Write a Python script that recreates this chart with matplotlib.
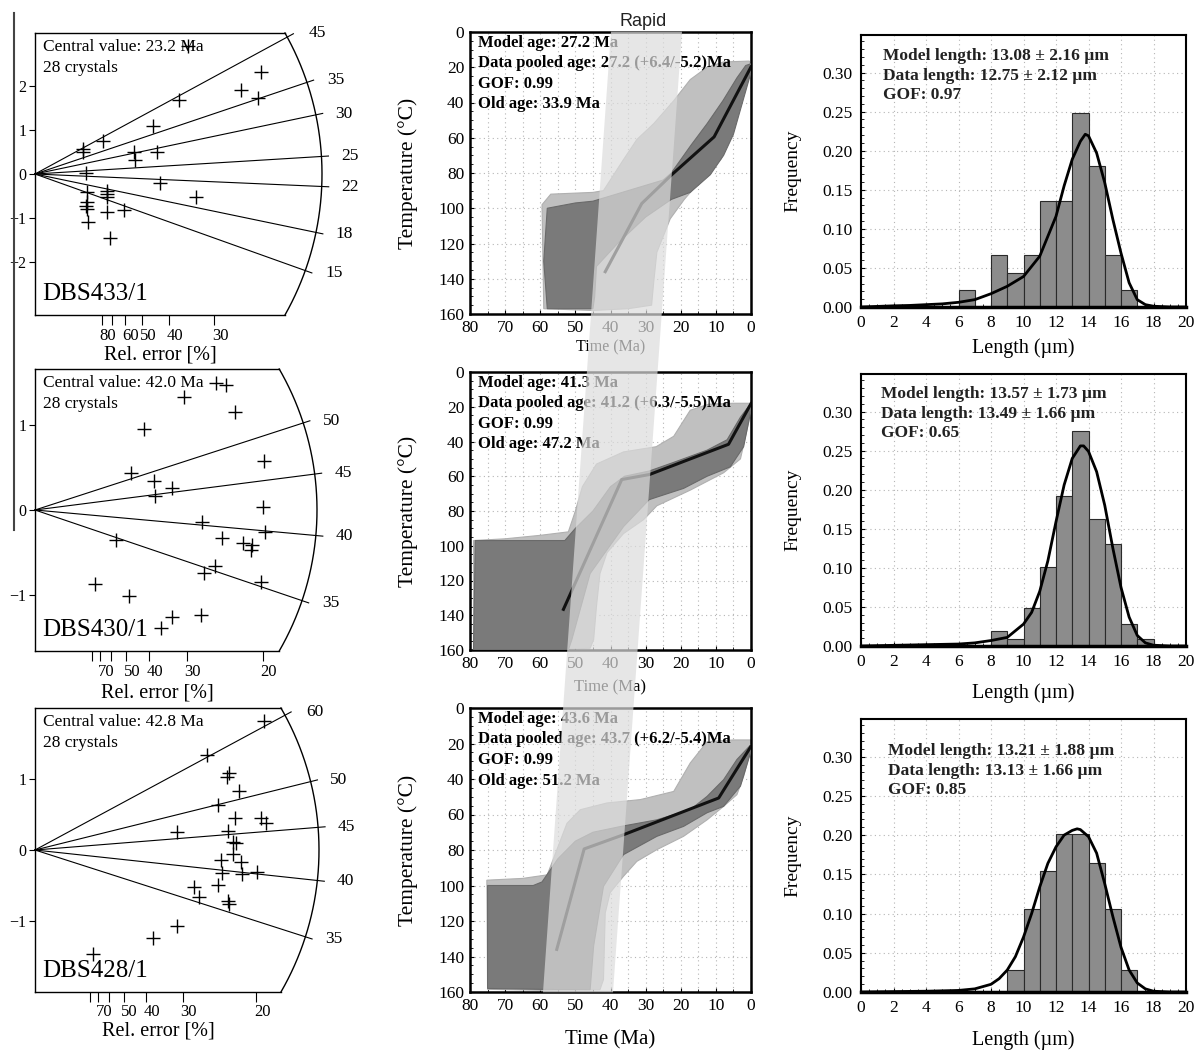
import numpy as np
import matplotlib
matplotlib.use('Agg')
from matplotlib import pyplot as plt
from matplotlib.lines import Line2D
from matplotlib.patches import Polygon
from matplotlib.ticker import MultipleLocator
from matplotlib.transforms import ScaledTranslation

plt.rcParams['font.family'] = 'serif'
plt.rcParams['font.serif'] = ['Liberation Serif', 'DejaVu Serif']

# ---------------- radial plots ----------------
samples = ['DBS433/1', 'DBS430/1', 'DBS428/1']
central_ages = [23.2, 42.0, 42.8]
n_crystals = [28, 28, 28]
age_lines = [[45, 35, 30, 25, 22, 18, 15],
             [50, 45, 40, 35],
             [60, 50, 45, 40, 35]]
rel_err_ticks = [[80, 70, 60, 50, 40, 30],
                 [80, 70, 60, 50, 40, 30, 20],
                 [80, 70, 60, 50, 40, 30, 20]]
rel_err_labels = [['80', '', '60', '50', '40', '30'],
                  ['', '70', '', '50', '40', '30', '20'],
                  ['', '70', '', '50', '40', '30', '20']]
z_ticks = [[-2, -1, 0, 1, 2], [-1, 0, 1], [-1, 0, 1]]

# precision (1/rel. error) and standardised estimate of each crystal
prec_433 = [0.90, 0.90, 1.27, 0.95, 0.975, 0.975, 0.975, 0.99, 1.35, 1.35, 1.35, 1.40, 1.66,
            1.84, 1.86, 2.20, 2.27, 2.33, 2.69, 3.00, 2.84, 3.83, 4.16, 4.21, 1.35, 0.95]
z_433 = [0.57, 0.50, 0.74, 0.02, -0.415, -0.64, -0.79, -1.09, -0.38, -0.53, -0.87, -1.45, -0.82,
         0.49, 0.32, 1.09, 0.51, -0.21, 1.68, -0.53, 2.92, 1.90, 1.72, 2.32, -0.45, -0.72]
prec_430 = [3.98, 4.19, 3.27, 4.39, 2.39, 5.03, 2.12, 2.61, 3.02, 2.64, 5.59, 5.01, 3.66, 4.10,
            5.05, 4.58, 4.76, 4.74, 1.78, 3.95, 3.71, 4.96, 1.32, 2.07, 3.02, 2.78, 3.64]
z_430 = [1.50, 1.47, 1.34, 1.16, 0.96, 0.58, 0.44, 0.34, 0.26, 0.17, 0.31, 0.04, -0.14, -0.33,
         -0.26, -0.39, -0.41, -0.47, -0.35, -0.66, -0.74, -0.85, -0.87, -1.01, -1.26, -1.39, -1.24]
prec_428 = [5.17, 3.89, 4.38, 4.34, 4.61, 4.14, 5.77, 4.51, 5.11, 5.21, 3.20, 4.35, 4.47, 4.53,
            4.46, 4.19, 4.66, 4.23, 4.68, 5.02, 3.59, 3.71, 4.14, 4.36, 4.37, 3.21, 2.67, 1.32]
z_428 = [1.82, 1.34, 1.09, 1.03, 0.84, 0.64, 0.59, 0.45, 0.45, 0.38, 0.26, 0.27, 0.12, 0.10,
         -0.06, -0.14, -0.17, -0.32, -0.34, -0.31, -0.52, -0.67, -0.50, -0.72, -0.76, -1.08, -1.24, -1.47]
radial_prec = [prec_433, prec_430, prec_428]
radial_z = [z_433, z_430, z_428]

# ---------------- thermal histories (HeFTy style envelopes) ----------------
model_ages = ['27.2', '41.3', '43.6']
pooled_ages = ['27.2 (+6.4/-5.2)', '41.2 (+6.3/-5.5)', '43.7 (+6.2/-5.4)']
gof_age = ['0.99', '0.99', '0.99']
old_ages = ['33.9', '47.2', '51.2']

# acceptable-fit envelopes (time Ma, temperature C)
acc_t1 = [59.5, 57, 45, 42, 36.5, 32.5, 27.7, 22, 17.3, 12.5, 7.8, 0.5, 0, 0, 4, 6, 8.5, 12.5,
          19, 23, 26.8, 27.7, 28.3, 35, 45, 59]
acc_T1 = [98, 92, 91, 90, 73, 61, 52, 39, 27, 20, 17, 16.5, 19, 23, 44, 57, 72, 80,
          95, 106, 125, 142, 155, 157, 158, 157]
acc_t2 = [79, 70, 60, 52, 50, 48, 44, 36.3, 27, 22, 17.3, 12, 5, 0, 0, 3, 7.8, 17.3, 26.8,
          30.6, 36.3, 41, 43, 44, 44.8, 45.8, 60, 79]
acc_T2 = [97, 96, 94, 92, 80, 66, 53, 46, 43, 37, 22, 18.5, 18, 18, 23, 50, 58, 68, 77,
          85, 93, 104, 116, 135, 154, 159, 160, 160]
acc_t3 = [75.2, 65, 58, 55.3, 52.4, 48.6, 41, 31.5, 22, 17.3, 12.5, 5, 0, 0, 2.1, 4, 7.8, 12.5,
          19.2, 26.8, 32.5, 36.3, 40.1, 41.5, 42, 43, 60, 75]
acc_T3 = [97, 96, 94, 80, 65, 57.3, 53.5, 51.6, 47, 31, 19, 18, 18, 23, 38.5, 48.8, 55.4, 63,
          72.3, 79.8, 86.4, 94.8, 104, 115.5, 153, 158.7, 159, 158.5]
# good-fit envelopes
good_t1 = [58, 50, 45, 35, 25, 22.7, 17, 12.5, 8, 4, 1.5, 0, 0, 3, 5, 7.8, 11.6, 17.3, 22.7,
           30, 38, 44, 44.5, 45, 58, 59]
good_T1 = [100, 97, 96, 90, 84, 80, 64, 52, 39, 26, 19, 18, 23, 44, 58, 70, 81, 91, 95,
           105, 120, 133, 150, 157, 157, 130]
good_t2 = [78.5, 60, 53, 50, 45, 40, 36, 29, 22, 12.5, 6.8, 3, 0, 0, 2.1, 5.9, 12.5, 19.2,
           26.8, 29, 36.3, 45.8, 51, 52, 79]
good_T2 = [97, 97, 97, 90, 80, 66, 60, 57, 52, 45, 39, 26, 18, 22, 43, 54.6, 60, 67,
           72, 73.5, 89, 116, 154, 160, 160]
good_t3 = [75, 62, 59.5, 55, 50, 45, 37, 26.8, 17.3, 12.5, 7.8, 4, 0, 0, 3, 7.8, 12.5, 19.2,
           26.8, 36.3, 42, 44.8, 45.8, 60, 75]
good_T3 = [100, 100, 98, 85, 75, 70, 66.7, 63, 57.3, 49.8, 40.4, 29, 20.6, 24.4, 44, 55.4, 59,
           66.7, 72.3, 82.6, 100.5, 134, 158.7, 158.5, 158]
acc_t = [acc_t1, acc_t2, acc_t3]
acc_T = [acc_T1, acc_T2, acc_T3]
good_t = [good_t1, good_t2, good_t3]
good_T = [good_T1, good_T2, good_T3]
# weighted mean (best) path
best_t = [[0, 10.5, 22.7, 31.1, 41.5], [0, 6.4, 28.9, 36.8, 53.4], [0, 9.2, 36.3, 47.5, 55.3]]
best_T = [[19.8, 59.5, 81.2, 97.3, 136], [18.2, 41.6, 59, 61.9, 136.6], [21.6, 50.7, 71.4, 79.4, 136]]

# ---------------- track length histograms ----------------
model_len = ['13.08 ± 2.16', '13.57 ± 1.73', '13.21 ± 1.88']
data_len = ['12.75 ± 2.12', '13.49 ± 1.66', '13.13 ± 1.66']
gof_len = ['0.97', '0.65', '0.85']
bin_left = list(range(20))
freq_433 = [0, 0, 0, 0, 0, 0, 0.022, 0, 0.067, 0.044, 0.067, 0.135, 0.135, 0.248, 0.18, 0.067,
            0.022, 0, 0, 0]
freq_430 = [0, 0, 0, 0, 0, 0, 0, 0, 0.019, 0.0093, 0.049, 0.101, 0.192, 0.275, 0.162, 0.131,
            0.028, 0.0093, 0, 0]
freq_428 = [0, 0, 0, 0, 0, 0, 0, 0, 0, 0.0277, 0.106, 0.154, 0.201, 0.201, 0.164, 0.106,
            0.0277, 0, 0, 0]
pdf_x1 = [0, 2, 3, 4, 5, 6, 7, 8, 9, 10, 11, 12, 12.5, 13, 13.5, 13.8, 14, 14.5, 15, 15.5,
          16, 16.5, 17, 17.5, 18, 19, 20]
pdf_y1 = [0, 0.0015, 0.002, 0.003, 0.004, 0.006, 0.0094, 0.017, 0.0265, 0.039, 0.065, 0.116,
          0.155, 0.189, 0.212, 0.221, 0.219, 0.197, 0.159, 0.112, 0.069, 0.031, 0.0094, 0.003,
          0.001, 0, 0]
pdf_x2 = [0, 4, 6, 7, 8, 9, 10, 10.5, 11, 11.5, 12, 12.5, 13, 13.5, 13.7, 14, 14.5, 15, 15.5,
          16, 16.5, 17, 17.5, 18, 19, 20]
pdf_y2 = [0, 0.0017, 0.0025, 0.004, 0.007, 0.011, 0.028, 0.043, 0.07, 0.109, 0.159, 0.206,
          0.24, 0.256, 0.256, 0.249, 0.223, 0.18, 0.125, 0.075, 0.037, 0.0135, 0.004, 0.001, 0, 0]
pdf_x3 = [0, 4, 6, 7, 8, 8.5, 9, 9.5, 10, 10.5, 11, 11.5, 12, 12.5, 13, 13.3, 13.5, 14, 14.5,
          15, 15.5, 16, 16.5, 17, 17.5, 18, 19, 20]
pdf_y3 = [0, 0.001, 0.002, 0.004, 0.0098, 0.017, 0.028, 0.045, 0.07, 0.1, 0.134, 0.164, 0.185,
          0.2, 0.206, 0.208, 0.207, 0.198, 0.177, 0.138, 0.096, 0.057, 0.028, 0.0115, 0.004, 0.001,
          0, 0]
freqs = [freq_433, freq_430, freq_428]
pdf_x = [pdf_x1, pdf_x2, pdf_x3]
pdf_y = [pdf_y1, pdf_y2, pdf_y3]

W, H = 1200, 1050
fig = plt.figure(figsize=(12, 10.5), dpi=100)


def px_axes(x0, y0, x1, y1):
    return fig.add_axes([x0 / W, 1 - y1 / H, (x1 - x0) / W, (y1 - y0) / H])


def place_labels(ax, xlab_dy, ylab_dx, box):
    # put axis label centres at given pixel distances from the frame
    x0, y0, x1, y1 = box
    if xlab_dy is not None:
        ax.xaxis.label.set_va('center')
        ax.xaxis.set_label_coords(0.5, -xlab_dy / (y1 - y0))
    if ylab_dx is not None:
        ax.yaxis.label.set_va('center')
        ax.yaxis.set_label_coords(-ylab_dx / (x1 - x0), 0.5)


# ---- left column: radial plots ----
# origin y, half height, arc radius, px per precision unit, px per z unit
radial_layout = [(174, 141, 287, 53.7, 44.0),
                 (510, 141, 282, 45.5, 84.7),
                 (850, 142, 284, 44.3, 70.7)]
label_pad = [40, 42, 39]
for i in range(3):
    oy, hh, R, sx, sy = radial_layout[i]
    w = np.sqrt(R ** 2 - hh ** 2)
    box = (35, oy - hh, 35 + w, oy + hh)
    ax = px_axes(*box)
    ax.set_xlim(0, w / sx)
    ax.set_ylim(-hh / sy, hh / sy)
    ax.spines['right'].set_visible(False)
    for s in ['left', 'top', 'bottom']:
        ax.spines[s].set_linewidth(1.0)
    phi = np.linspace(-np.arcsin(hh / R), np.arcsin(hh / R), 200)
    ax.plot(R * np.cos(phi) / sx, R * np.sin(phi) / sy, color='k', lw=1.0, clip_on=False)
    for t in age_lines[i]:
        a = np.arctan(np.log(t / central_ages[i]) * sy / sx)
        ax.plot([0, (R + 7) * np.cos(a) / sx], [0, (R + 7) * np.sin(a) / sy],
                color='k', lw=0.8, clip_on=False)
        b = 0.93 * a
        ax.text((R + 28) * np.cos(b) / sx, (R + 28) * np.sin(b) / sy, str(t),
                ha='center', va='center', fontsize=12.5, clip_on=False)
    ax.plot(radial_prec[i], radial_z[i], '+', color='k', ms=10, mew=1.0)
    ax.set_yticks(z_ticks[i])
    ax.tick_params(axis='y', direction='out', length=4, labelsize=11.5, pad=2)
    ax.set_xticks([100.0 / r for r in rel_err_ticks[i]])
    ax.set_xticklabels(rel_err_labels[i])
    ax.tick_params(axis='x', direction='out', length=7, labelsize=12, pad=2)
    off = ScaledTranslation(6 / 100, 0, fig.dpi_scale_trans)
    for lab in ax.get_xticklabels():
        lab.set_transform(lab.get_transform() + off)
    ax.set_xlabel('Rel. error [%]', fontsize=14.5)
    place_labels(ax, label_pad[i], None, box)
    ax.text(8 / w, 1 - 6 / (2 * hh),
            'Central value: {:.1f} Ma\n{} crystals'.format(central_ages[i], n_crystals[i]),
            transform=ax.transAxes, ha='left', va='top', fontsize=12.5, linespacing=1.4)
    ax.text(7 / w, 10 / (2 * hh), samples[i], transform=ax.transAxes,
            ha='left', va='bottom', fontsize=18)

fig.add_artist(Line2D([14 / W, 14 / W], [1 - 13 / H, 1 - 530 / H], color='#444444', lw=1.5))

# ---- middle column: time-temperature paths ----
mid_boxes = [(470, 32, 751, 314), (470, 372, 751, 650), (470, 708, 751, 992)]
time_pad = [33, 37, 48]
time_size = [11.5, 12, 15]
for i in range(3):
    box = mid_boxes[i]
    ax = px_axes(*box)
    ax.fill(acc_t[i], acc_T[i], facecolor='#c0c0c0', edgecolor='#b0b0b0', lw=0.8, zorder=2)
    ax.fill(good_t[i], good_T[i], facecolor='#7a7a7a', edgecolor='#6a6a6a', lw=0.8, zorder=3)
    ax.plot(best_t[i], best_T[i], color='#111111', lw=2.2, zorder=4)
    ax.set_xlim(80, 0)
    ax.set_ylim(160, 0)
    ax.set_xticks(range(0, 81, 10))
    ax.set_yticks(range(0, 161, 20))
    ax.xaxis.set_minor_locator(MultipleLocator(5))
    ax.yaxis.set_minor_locator(MultipleLocator(5))
    ax.grid(which='both', axis='x', color='#b5b5b5', ls=(0, (1, 3)), lw=0.8)
    ax.grid(which='major', axis='y', color='#b5b5b5', ls=(0, (1, 3)), lw=0.8)
    ax.set_axisbelow(True)
    ax.tick_params(which='major', direction='in', length=3, labelsize=12.5, pad=4)
    ax.tick_params(which='minor', direction='in', length=2)
    for s in ax.spines.values():
        s.set_linewidth(1.8)
    ax.set_ylabel('Temperature (°C)', fontsize=15.5)
    ax.set_xlabel('Time (Ma)', fontsize=time_size[i])
    place_labels(ax, time_pad[i], 62, box)
    txt = 'Model age: {} Ma\nData pooled age: {}Ma\nGOF: {}\nOld age: {} Ma'.format(
        model_ages[i], pooled_ages[i], gof_age[i], old_ages[i])
    ax.text(0.027, 0.99, txt, transform=ax.transAxes, ha='left', va='top',
            fontsize=12, fontweight='bold', linespacing=1.38, zorder=6)

# rapid cooling band across the three models
band = [(611, 31.7), (682, 31.7), (613, 992.3), (543, 992.3)]
fig.add_artist(Polygon([(x / W, 1 - y / H) for x, y in band], closed=True,
                       transform=fig.transFigure, facecolor='#dcdcdc', edgecolor='none',
                       alpha=0.7, zorder=10))
fig.text(643 / W, 1 - 21 / H, 'Rapid', ha='center', va='center', fontsize=13,
         family='Liberation Sans', color='#222222')

# ---- right column: track length distributions ----
hist_boxes = [(861, 35, 1186, 307), (861, 374, 1186, 646), (861, 719, 1186, 992)]
len_pad = [41, 47, 48]
txt_pos = [(0.068, 0.952), (0.062, 0.956), (0.083, 0.912)]
for i in range(3):
    box = hist_boxes[i]
    ax = px_axes(*box)
    ax.bar(bin_left, freqs[i], width=1, align='edge', color='#8c8c8c',
           edgecolor='#2a2a2a', lw=0.8, zorder=2)
    ax.plot(pdf_x[i], pdf_y[i], color='k', lw=2, zorder=3)
    ax.set_xlim(0, 20)
    ax.set_ylim(0, 0.348)
    ax.set_xticks(range(0, 21, 2))
    ax.set_yticks([0, 0.05, 0.10, 0.15, 0.20, 0.25, 0.30])
    ax.set_yticklabels(['0.00', '0.05', '0.10', '0.15', '0.20', '0.25', '0.30'])
    ax.xaxis.set_minor_locator(MultipleLocator(0.5))
    ax.yaxis.set_minor_locator(MultipleLocator(0.01))
    ax.grid(which='major', color='#b5b5b5', ls=(0, (1, 3)), lw=0.8)
    ax.set_axisbelow(True)
    ax.tick_params(which='major', direction='in', length=3, labelsize=12.5, pad=6)
    ax.tick_params(which='minor', direction='in', length=2)
    for s in ax.spines.values():
        s.set_linewidth(1.5)
    ax.spines['bottom'].set_linewidth(2.5)
    ax.set_ylabel('Frequency', fontsize=14)
    ax.set_xlabel('Length (µm)', fontsize=14.5)
    place_labels(ax, len_pad[i], 68, box)
    txt = 'Model length: {} µm\nData length: {} µm\nGOF: {}'.format(
        model_len[i], data_len[i], gof_len[i])
    ax.text(txt_pos[i][0], txt_pos[i][1], txt, transform=ax.transAxes, ha='left', va='top',
            fontsize=12.5, fontweight='bold', linespacing=1.3, color='#222222', zorder=5)

fig.savefig('out.png', dpi=100)
